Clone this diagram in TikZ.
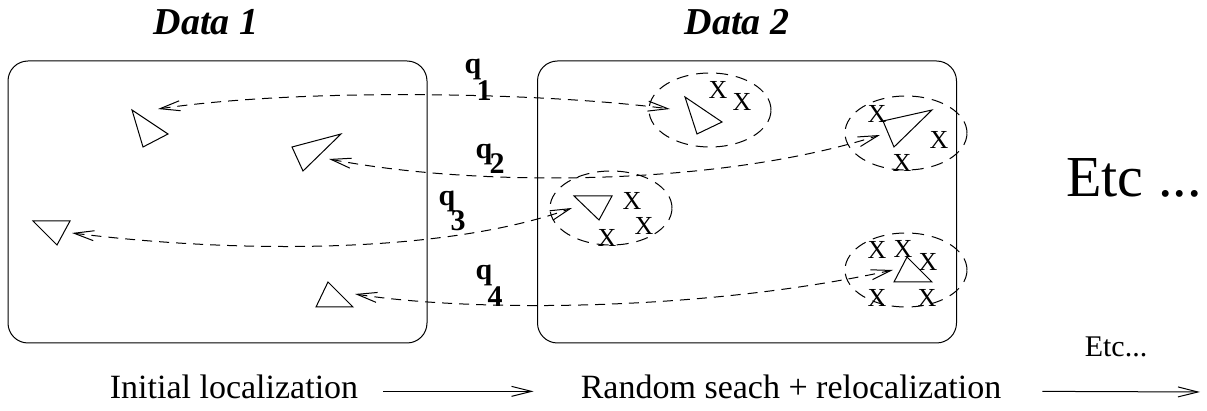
\documentclass[tikz,border=0pt]{standalone}
\usepackage{fontspec}
\setmainfont{Liberation Serif}
\usetikzlibrary{arrows.meta,shapes.geometric}

\begin{document}
\begin{tikzpicture}[x=0.5pt,y=-0.5pt,line width=0.5pt,
  barb/.tip={Straight Barb[length=10pt,width=5pt]},
  link/.style={dash pattern=on 5pt off 3.5pt,barb-barb},
  zone/.style={draw,ellipse,dash pattern=on 6pt off 4pt,minimum width=61pt,minimum height=37pt,inner sep=0pt},
  frame/.style={draw,rounded corners=10pt,minimum width=209.5pt,minimum height=141pt,inner sep=0pt},
  xm/.style={inner sep=0pt,font=\fontsize{13}{13}\selectfont},
  ql/.style={inner sep=0pt,font=\fontsize{15}{15}\selectfont\bfseries},
  title/.style={anchor=base,font=\fontsize{19}{19}\selectfont\bfseries\itshape},
  step label/.style={anchor=base,font=\fontsize{17}{17}\selectfont}]

  \useasboundingbox (0,0) rectangle (1207,411);

  % the two data sets
  \node[frame] (data1) at (217.5,202) {};
  \node[frame] (data2) at (747,202) {};
  \node[title] (t1) at (206,35) {Data 1};
  \node[title] (t2) at (737,35) {Data 2};

  % initial positions
  \draw (132,110) -- (168,134) -- (143,147) -- cycle;
  \draw (292,147) -- (341,134) -- (303,171) -- cycle;
  \draw (33,221) -- (70,221) -- (57,245) -- cycle;
  \draw (316,307) -- (328,282) -- (353,307) -- cycle;

  % search zones
  \node[zone] (e1) at (710,110) {};
  \node[zone] (e2) at (906,133) {};
  \node[zone] (e3) at (611,208) {};
  \node[zone] (e4) at (906,270) {};

  \draw (685,97) -- (722,122) -- (697,134) -- cycle;
  \draw (883,121) -- (932,110) -- (894,147) -- cycle;
  \draw (574,196) -- (612,196) -- (599,220) -- cycle;
  \draw (894,282) -- (907,257) -- (932,282) -- cycle;

  \node[xm] (x1) at (718,90) {X};
  \node[xm] (x2) at (742,102) {X};
  \node[xm] (x3) at (877,114) {X};
  \node[xm] (x4) at (939,140) {X};
  \node[xm] (x5) at (902,163) {X};
  \node[xm] (x6) at (632,201) {X};
  \node[xm] (x7) at (644,226) {X};
  \node[xm] (x8) at (607,238) {X};
  \node[xm] (x9) at (877,250) {X};
  \node[xm] (x10) at (903,249) {X};
  \node[xm] (x11) at (928,262) {X};
  \node[xm] (x12) at (877,298) {X};
  \node[xm] (x13) at (927,298) {X};

  % links
  \coordinate (l1) at (158,109);
  \coordinate (r1) at (670,109);
  \coordinate (l2) at (329,159);
  \coordinate (r2) at (880,135);
  \coordinate (l3) at (72,233);
  \coordinate (r3) at (572,208);
  \coordinate (l4) at (355,294);
  \coordinate (r4) at (893,270);

  \draw[link] (l1) .. controls (300,88) and (540,92) .. (r1);
  \draw[link] (l2) .. controls (480,188) and (720,186) .. (r2);
  \draw[link] (l3) .. controls (250,255) and (450,252) .. (r3);
  \draw[link] (l4) .. controls (470,312) and (700,312) .. (r4);

  \node[ql] (q1) at (473,69) {q};
  \node[ql] (n1) at (484,91) {1};
  \node[ql] (q2) at (484,154) {q};
  \node[ql] (n2) at (497,164) {2};
  \node[ql] (q3) at (447,201) {q};
  \node[ql] (n3) at (458,221) {3};
  \node[ql] (q4) at (484,275) {q};
  \node[ql] (n4) at (495,297) {4};

  % next steps
  \node[anchor=base,font=\fontsize{29}{29}\selectfont] (etc) at (1134,197) {Etc ...};
  \node[anchor=base,font=\fontsize{15}{15}\selectfont] (etc2) at (1116,357) {Etc...};

  \node[step label] (init) at (234,399) {Initial localization};
  \node[step label] (rand) at (791,399) {Random seach + relocalization};
  \coordinate (end) at (1200,392);
  \draw[-barb] ([xshift=9pt,yshift=-2pt]init.east) -- ([xshift=-20pt,yshift=-2pt]rand.west);
  \draw[-barb] ([xshift=17pt,yshift=-2pt]rand.east) -- (end);
\end{tikzpicture}
\end{document}
